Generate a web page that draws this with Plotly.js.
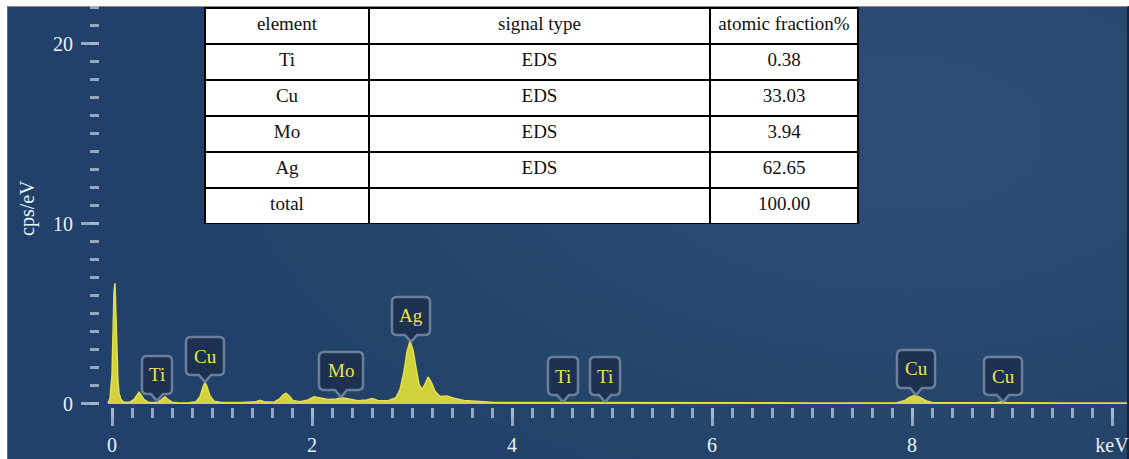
<!DOCTYPE html>
<html>
<head>
<meta charset="utf-8">
<script src="https://cdn.plot.ly/plotly-3.0.1.min.js"></script>
<style>
  html, body { margin:0; padding:0; background:#ffffff; width:1129px; height:459px; overflow:hidden; }
  #bg { position:absolute; left:7px; top:6px; width:1119px; height:453px;
        border-left:1px solid #6a6a6a; border-top:1px solid #8a8a8a; border-right:2px solid #14233a;
        background: radial-gradient(ellipse 70% 95% at 80% 28%, #2e4d74 0%, #2a4971 40%, #244469 75%, #21406a 100%); }
  #chart { position:absolute; left:0; top:0; width:1129px; height:459px; }
</style>
</head>
<body>
<div id="bg"></div>
<div id="chart"></div>
<script>
// ---- spectrum (keV, cps/eV) ----
const energyKeV = [-0.04,-0.02,0.0,0.01,0.02,0.03,0.04,0.05,0.06,0.07,0.09,0.12,0.18,0.22,0.25,0.27,0.29,0.32,0.36,0.45,0.49,0.53,0.56,0.6,0.66,0.75,0.84,0.88,0.91,0.93,0.95,0.98,1.02,1.1,1.3,1.44,1.48,1.52,1.62,1.68,1.71,1.74,1.77,1.81,1.88,1.96,2.02,2.08,2.16,2.24,2.3,2.37,2.46,2.55,2.6,2.66,2.76,2.84,2.88,2.92,2.95,2.98,3.01,3.04,3.07,3.1,3.13,3.16,3.19,3.23,3.28,3.35,3.42,3.52,3.65,3.8,4.0,4.5,5.0,6.0,7.0,7.85,7.93,7.98,8.03,8.08,8.14,8.2,8.85,8.9,8.95,9.5,10.2];
const countsCps = [0.05,0.3,1.6,4.2,6.2,6.7,4.6,2.4,1.2,0.6,0.25,0.1,0.1,0.25,0.5,0.65,0.5,0.25,0.1,0.08,0.22,0.4,0.25,0.1,0.07,0.06,0.12,0.4,0.95,1.2,0.95,0.45,0.15,0.08,0.08,0.13,0.2,0.12,0.1,0.3,0.5,0.6,0.45,0.2,0.12,0.22,0.4,0.32,0.25,0.28,0.35,0.28,0.18,0.22,0.3,0.2,0.18,0.35,0.8,1.8,2.9,3.5,3.0,2.0,1.1,0.8,1.1,1.5,1.25,0.7,0.42,0.45,0.32,0.2,0.14,0.1,0.08,0.07,0.07,0.06,0.06,0.07,0.2,0.38,0.48,0.36,0.18,0.08,0.07,0.12,0.07,0.06,0.06];

// ---- peak labels ----
const labelNames = ['Ti','Cu','Mo','Ag','Ti','Ti','Cu','Cu'];
const labelKeV   = [0.45, 0.93, 2.29, 2.99, 4.51, 4.93, 8.04, 8.91];
const labelTipY  = [0.17, 1.22, 0.39, 3.45, 0.11, 0.11, 0.5, 0.11];

// ---- table ----
const tableHeader   = ['element', 'signal type', 'atomic\u00a0fraction%'];
const tableElements = ['Ti', 'Cu', 'Mo', 'Ag', 'total'];
const tableSignal   = ['EDS', 'EDS', 'EDS', 'EDS', ''];
const tableFraction = ['0.38', '33.03', '3.94', '62.65', '100.00'];

// ---- axis ticks ----
const xTickVals = [0, 2, 4, 6, 8, 10];
const xTickText = ['0', '2', '4', '6', '8', 'keV'];
const yTickVals = [0, 10, 20];
const yTickText = ['0', '10', '20'];

// ---- styles ----
const SERIF = 'Liberation Serif';
const boxWidth = { Ti: 30, Cu: 38, Mo: 44, Ag: 38 };
const tickCol = 'rgba(170,184,204,0.85)';

function calloutPath(w) {
  const h = 38, p = 7, r = 5, a = 6, hw = w / 2;
  return `M0,0 L${-a},${p} L${-hw + r},${p} Q${-hw},${p} ${-hw},${p + r} ` +
         `L${-hw},${p + h - r} Q${-hw},${p + h} ${-hw + r},${p + h} ` +
         `L${hw - r},${p + h} Q${hw},${p + h} ${hw},${p + h - r} ` +
         `L${hw},${p + r} Q${hw},${p} ${hw - r},${p} L${a},${p} Z`;
}

const L = 100, R = 2, T = 6, B = 52, W = 1129, H = 459;
const pw = W - L - R, ph = H - T - B;
const px2fx = x => (x - L) / pw;
const px2fy = y => 1 - (y - T) / ph;

const shapes = labelNames.map((n, i) => ({
  type: 'path', xref: 'x', yref: 'y',
  xsizemode: 'pixel', ysizemode: 'pixel',
  xanchor: labelKeV[i], yanchor: labelTipY[i],
  path: calloutPath(boxWidth[n]),
  fillcolor: 'rgba(27,46,76,0.88)',
  line: { color: 'rgba(130,150,178,0.75)', width: 2.5 },
  layer: 'above'
}));

const annotations = labelNames.map((n, i) => ({
  x: labelKeV[i], y: labelTipY[i], xref: 'x', yref: 'y',
  text: n, showarrow: false, yshift: 26,
  xanchor: 'center', yanchor: 'middle',
  font: { family: SERIF, size: 19, color: '#ece64a' }
}));

annotations.push({
  xref: 'paper', yref: 'paper', x: px2fx(27), y: px2fy(208),
  text: 'cps/eV', textangle: -90, showarrow: false,
  xanchor: 'center', yanchor: 'middle',
  font: { family: SERIF, size: 20, color: '#eef2f7' }
});

const spectrum = {
  type: 'scatter', mode: 'lines',
  x: energyKeV, y: countsCps,
  fill: 'tozeroy', fillcolor: 'rgba(226,222,62,0.92)',
  line: { color: '#e4e048', width: 1.5 },
  hoverinfo: 'skip', showlegend: false
};

const tableFont = { family: SERIF, size: 19, color: '#111111' };
const table = {
  type: 'table',
  domain: { x: [px2fx(205), px2fx(858)], y: [px2fy(225), px2fy(8)] },
  columnwidth: [164, 341, 148],
  header: {
    values: tableHeader, height: 36, align: 'center',
    fill: { color: '#ffffff' }, line: { color: '#000000', width: 1.5 },
    font: tableFont
  },
  cells: {
    values: [tableElements, tableSignal, tableFraction], height: 36, align: 'center',
    fill: { color: '#ffffff' }, line: { color: '#000000', width: 1.5 },
    font: tableFont
  }
};

const layout = {
  width: W, height: H,
  margin: { l: L, r: R, t: T, b: B, pad: 0 },
  paper_bgcolor: 'rgba(0,0,0,0)', plot_bgcolor: 'rgba(0,0,0,0)',
  font: { family: SERIF, size: 19, color: '#111111' },
  showlegend: false,
  xaxis: {
    range: [-0.12, 10.15], showgrid: false, zeroline: false, showline: false,
    tickmode: 'array', tickvals: xTickVals, ticktext: xTickText,
    ticks: 'outside', ticklen: 18, tickwidth: 3, tickcolor: tickCol,
    ticklabelstandoff: 2, ticklabeloverflow: 'allow',
    minor: { dtick: 0.2, ticks: 'outside', ticklen: 10, tickwidth: 3, tickcolor: tickCol, showgrid: false },
    tickfont: { family: SERIF, size: 20, color: '#eef2f7' }
  },
  yaxis: {
    range: [-0.167, 22.11], showgrid: false, zeroline: false, showline: false,
    tickmode: 'array', tickvals: yTickVals, ticktext: yTickText,
    ticks: 'outside', ticklen: 18, tickwidth: 3, tickcolor: tickCol,
    ticklabelstandoff: 4,
    minor: { dtick: 1, ticks: 'outside', ticklen: 9, tickwidth: 3, tickcolor: tickCol, showgrid: false },
    tickfont: { family: SERIF, size: 20, color: '#eef2f7' }
  },
  shapes: shapes,
  annotations: annotations
};

Plotly.newPlot('chart', [spectrum, table], layout, { staticPlot: true, displayModeBar: false });
</script>
</body>
</html>
